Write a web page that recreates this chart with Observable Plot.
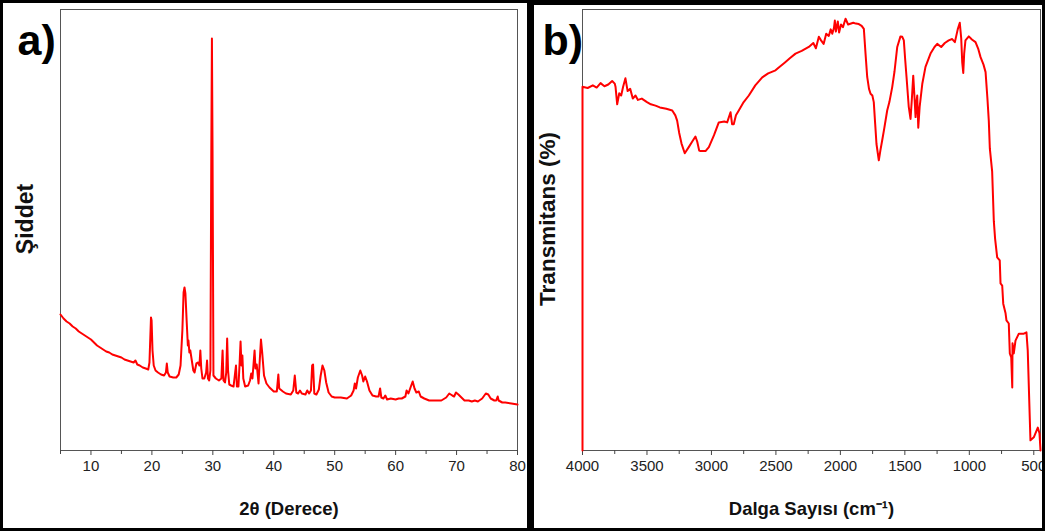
<!DOCTYPE html>
<html>
<head>
<meta charset="utf-8">
<script src="https://cdn.jsdelivr.net/npm/d3@7"></script>
<script src="https://cdn.jsdelivr.net/npm/@observablehq/plot@0.6"></script>
<style>
  html, body { margin: 0; padding: 0; background: #fff; }
  #page { position: relative; width: 1045px; height: 531px; overflow: hidden; background: #fff; }
  .pl { position: absolute; top: 0; }
  .border { position: absolute; box-sizing: border-box; border-style: solid; border-color: #000; pointer-events: none; z-index: 5; }
</style>
</head>
<body>
<div id="page">
  <div id="left" class="pl" style="left:0px"></div>
  <div id="right" class="pl" style="left:530px"></div>
  <div class="border" style="left:0;top:0;width:530px;height:531px;border-width:3px 3px 3px 3px;"></div>
  <div class="border" style="left:530px;top:0;width:515px;height:531px;border-width:5px 3px 3px 4px;"></div>
</div>
<script>
// ---------- (a) XRD pattern: 2θ (degrees) and intensity (arbitrary units) ----------
const xrdAngle = [
  5.0,5.5,6.0,6.5,7.0,7.5,8.0,8.5,9.0,9.5,10.0,10.5,11.0,11.5,12.0,12.5,13.0,13.5,14.0,14.5,
  15.0,15.5,16.0,16.5,17.0,17.3,17.6,18.0,18.5,19.0,19.4,19.6,19.75,19.85,19.95,20.1,20.3,20.6,21.0,21.5,
  22.0,22.3,22.45,22.6,22.9,23.5,24.0,24.4,24.7,25.0,25.2,25.35,25.5,25.7,25.9,26.0,26.15,26.3,26.5,26.8,
  27.0,27.3,27.6,27.8,27.95,28.1,28.3,28.6,28.9,29.05,29.2,29.4,29.6,29.75,29.85,29.95,30.1,30.5,31.0,31.4,
  31.6,31.75,32.0,32.2,32.35,32.5,32.7,33.0,33.4,33.7,33.8,33.95,34.2,34.4,34.55,34.7,34.85,35.0,35.3,35.8,
  36.1,36.3,36.5,36.7,36.85,37.0,37.2,37.5,37.7,37.9,38.1,38.4,38.8,39.3,40.0,40.5,40.75,40.9,41.5,42.0,
  42.8,43.2,43.45,43.7,44.0,44.3,44.6,45.2,45.5,45.8,46.1,46.3,46.45,46.65,47.0,47.4,47.7,48.0,48.3,48.6,
  49.0,49.5,50.0,51.0,52.0,52.7,53.1,53.3,53.5,53.8,54.2,54.5,54.7,55.0,55.3,55.7,56.2,56.8,57.2,57.45,
  57.65,58.0,58.3,58.6,59.2,60.0,60.5,61.0,61.6,61.8,62.1,62.5,62.8,63.1,63.4,63.8,64.1,64.7,65.5,66.5,
  67.5,68.3,68.8,69.3,69.6,69.9,70.3,70.8,71.3,72.0,72.5,73.0,73.5,74.2,74.8,75.2,75.6,76.2,76.5,76.75,
  76.9,77.5,78.0,79.0,80.0
];
const xrdIntensity = [
  136,132,129,127,124,122,119,117,115,113,111,108,105,103,101,99,98,96,95,94,
  93,91,90,89,88,90,86,85,83,82,81,88,115,133,130,100,85,80,78,76,
  75,78,87,78,74,73,73,76,85,120,158,163,157,130,105,110,98,100,92,80,
  78,87,88,85,100,82,72,72,78,90,72,70,80,300,412,300,75,72,70,72,
  100,70,68,78,112,80,66,65,64,80,85,64,64,88,109,85,95,72,64,65,
  70,77,72,88,100,82,86,67,90,111,98,75,67,63,59,59,76,62,59,57,
  56,60,75,58,57,60,57,56,60,57,60,85,86,57,56,61,75,85,80,68,
  58,54,53,53,52,55,60,67,62,73,80,75,69,74,69,60,55,54,54,62,
  53,52,55,51,52,51,52,52,54,60,57,64,69,62,58,59,54,52,50,50,
  50,53,57,55,54,58,56,53,50,50,49,50,49,52,57,56,52,50,50,54,
  50,48,48,47,46
];

// ---------- (b) FTIR spectrum: wavenumber (cm-1) and transmittance (%) ----------
const ftirWavenumber = [
  4000,4000,3960,3920,3890,3860,3830,3800,3770,3750,3744,3731,3715,3700,3685,3667,3650,3630,3610,3589,
  3570,3540,3500,3470,3434,3400,3350,3304,3280,3266,3250,3232,3207,3176,3150,3124,3110,3095,3085,3046,
  3020,2980,2943,2900,2878,2852,2840,2827,2810,2788,2750,2710,2660,2606,2560,2503,2480,2430,2390,2348,
  2300,2245,2210,2190,2167,2150,2130,2110,2090,2075,2063,2050,2043,2035,2020,2010,1995,1980,1960,1940,
  1900,1880,1857,1835,1818,1805,1792,1778,1766,1752,1741,1730,1720,1702,1690,1676,1660,1637,1620,1598,
  1580,1559,1534,1520,1508,1497,1487,1470,1456,1445,1435,1425,1417,1410,1404,1396,1385,1365,1340,1301,
  1270,1249,1218,1190,1160,1133,1112,1090,1074,1063,1055,1047,1040,1030,1004,980,952,930,913,890,
  874,860,849,841,823,810,800,784,764,758,745,737,719,712,694,686,675,667,665,655,
  642,616,577,557,547,526,500,469,456,448
];
const ftirTransmittance = [
  0,82.5,82.2,82.8,82.3,83.3,82.6,83.0,83.8,83.2,82.5,78.5,81.0,80.5,82.5,84.4,81.5,82.0,79.8,80.5,
  79.5,79.8,79.0,78.5,78.2,77.8,77.5,77.1,76.0,74.8,72.0,69.6,67.4,68.8,70.0,71.2,70.0,68.0,67.9,67.9,
  68.8,71.5,74.4,74.6,74.4,76.7,74.0,74.0,76.0,77.1,79.0,80.5,82.8,84.6,85.5,86.2,86.8,88.0,89.0,90.0,
  90.6,91.5,92.4,91.2,93.8,93.0,92.2,94.5,94.0,95.5,94.5,95.8,97.5,95.0,97.3,94.8,96.6,96.0,97.9,96.6,
  97.0,96.8,96.7,96.3,95.6,90.0,84.7,82.0,80.9,80.5,79.0,74.0,69.5,65.8,68.0,70.3,73.0,77.1,79.0,82.4,
  86.0,91.5,93.9,93.8,93.0,88.5,84.7,78.0,75.2,80.0,85.0,80.0,75.6,79.0,80.5,73.2,78.0,83.1,87.0,90.0,
  91.5,92.2,91.5,92.4,93.0,93.3,92.6,95.5,97.0,93.5,88.0,85.6,90.0,93.0,93.9,93.2,92.6,91.0,89.2,87.5,
  85.8,80.0,74.8,68.5,63.3,52.0,48.0,43.8,43.1,37.9,37.4,33.3,31.1,29.5,28.8,22.0,21.1,14.3,24.3,22.0,
  24.9,26.5,26.5,26.8,22.7,2.3,3.0,5.2,3.9,0
];

// ---------- axis ticks & labels ----------
const xrdMajorTicks = [10, 20, 30, 40, 50, 60, 70, 80];
const xrdMinorTicks = [5, 15, 25, 35, 45, 55, 65, 75];
const ftirMajorTicks = [4000, 3500, 3000, 2500, 2000, 1500, 1000, 500];
const ftirMinorTicks = [3750, 3250, 2750, 2250, 1750, 1250, 750];
const panelLabels = ["a)", "b)"];
const xTitles = ["2θ (Derece)", "Dalga Sayısı (cm⁻¹)"];
const yTitles = ["Şiddet", "Transmitans (%)"];

const font = "'Liberation Sans', Arial, Helvetica, sans-serif";
const red = "#ff0000";
const axisColor = "#444";

function panel({angle, values, xDomain, yDomain, major, minor, width, mLeft, mRight, label, xTitle, yTitle, yTitleSize, yTitleDx, labelDx}) {
  const idx = d3.range(angle.length);
  return Plot.plot({
    width, height: 531,
    marginLeft: mLeft, marginRight: mRight, marginTop: 9, marginBottom: 81,
    x: {domain: xDomain},
    y: {domain: yDomain, axis: null},
    style: {background: "transparent", fontFamily: font, fontSize: "15px", color: "#222", overflow: "visible"},
    marks: [
      Plot.frame({stroke: "#555", strokeWidth: 1}),
      Plot.axisX({ticks: minor, tickSize: 4, tickFormat: () => "", label: null, stroke: axisColor}),
      Plot.axisX({ticks: major, tickSize: 5, tickPadding: 5, tickFormat: d => String(d), label: null, stroke: axisColor, fill: "#222"}),
      Plot.line(idx, {x: angle, y: values, stroke: red, strokeWidth: 2, strokeLinejoin: "round"}),
      Plot.text([xTitle], {frameAnchor: "bottom", dy: 59, textAnchor: "middle", lineAnchor: "middle", fontSize: 18.5, fontWeight: "bold", fill: "#111"}),
      Plot.text([yTitle], {frameAnchor: "left", dx: yTitleDx, dy: -11, rotate: -90, textAnchor: "middle", lineAnchor: "middle", fontSize: yTitleSize, fontWeight: "bold", fill: "#111"}),
      Plot.text([label], {frameAnchor: "top-left", dx: labelDx, dy: 45, textAnchor: "start", lineAnchor: "bottom", fontSize: 43, fontWeight: "bold", fill: "#000"})
    ]
  });
}

document.getElementById("left").append(panel({
  angle: xrdAngle, values: xrdIntensity, xDomain: [5, 80], yDomain: [0, 441],
  major: xrdMajorTicks, minor: xrdMinorTicks, width: 530, mLeft: 60, mRight: 13,
  label: panelLabels[0], xTitle: xTitles[0], yTitle: yTitles[0], yTitleSize: 23, yTitleDx: -35, labelDx: -43
}));

document.getElementById("right").append(panel({
  angle: ftirWavenumber, values: ftirTransmittance, xDomain: [4000, 448], yDomain: [0, 100],
  major: ftirMajorTicks, minor: ftirMinorTicks, width: 515, mLeft: 52, mRight: 5,
  label: panelLabels[1], xTitle: xTitles[1], yTitle: yTitles[1], yTitleSize: 22.5, yTitleDx: -35, labelDx: -40
}));
</script>
</body>
</html>
